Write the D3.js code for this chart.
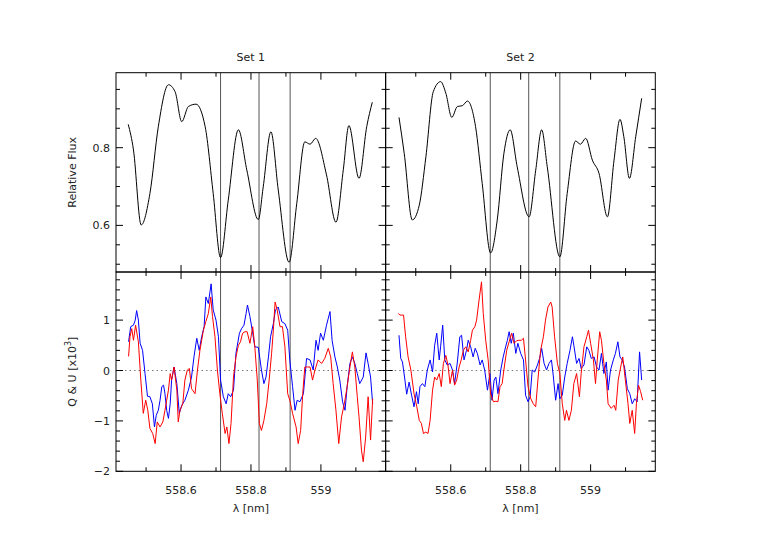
<!DOCTYPE html>
<html>
<head>
<meta charset="UTF-8">
<script src="https://d3js.org/d3.v7.min.js"></script>
<style>
  body { margin: 0; background: #fff; font-family: "DejaVu Sans", sans-serif; }
  text { fill: #222; font-size: 11px; }
</style>
</head>
<body>
<div id="chart"></div>
<script>
// line centres marked in every panel
const lineCentres = [558.713, 558.823, 558.912];
const setTitles = ["Set 1", "Set 2"];

// Relative flux [lambda, flux]
const flux1 = [[558.449,0.860],[558.464,0.794],[558.486,0.601],[558.511,0.682],[558.535,0.854],[558.564,0.962],[558.583,0.944],[558.602,0.867],[558.621,0.906],[558.643,0.912],[558.669,0.854],[558.692,0.682],[558.713,0.517],[558.735,0.665],[558.764,0.846],[558.788,0.743],[558.821,0.615],[558.835,0.699],[558.857,0.841],[558.878,0.691],[558.909,0.505],[558.931,0.657],[558.954,0.815],[558.969,0.809],[558.985,0.824],[559.016,0.730],[559.043,0.608],[559.064,0.743],[559.080,0.857],[559.109,0.721],[559.131,0.854],[559.147,0.917]];
const flux2 = [[558.452,0.878],[558.467,0.785],[558.490,0.614],[558.510,0.652],[558.529,0.777],[558.550,0.944],[558.571,0.970],[558.586,0.940],[558.603,0.878],[558.619,0.906],[558.633,0.908],[558.648,0.920],[558.671,0.854],[558.690,0.708],[558.714,0.529],[558.733,0.614],[558.752,0.785],[558.770,0.846],[558.790,0.751],[558.824,0.622],[558.843,0.742],[558.860,0.846],[558.876,0.751],[558.912,0.519],[558.933,0.682],[558.957,0.817],[558.971,0.809],[558.986,0.824],[559.005,0.768],[559.024,0.734],[559.048,0.622],[559.067,0.768],[559.084,0.873],[559.095,0.828],[559.111,0.721],[559.129,0.828],[559.146,0.927]];

// Q (blue) and U (red), units of 1e-3
const q1 = [[558.450,0.57],[558.456,0.87],[558.464,0.90],[558.469,1.00],[558.473,1.19],[558.478,1.00],[558.483,0.54],[558.490,0.40],[558.497,-0.06],[558.504,-0.51],[558.511,-0.52],[558.518,-0.66],[558.524,-1.12],[558.529,-0.89],[558.535,-0.79],[558.540,-0.59],[558.545,-0.32],[558.550,-0.29],[558.554,-0.46],[558.559,-0.79],[558.564,-0.95],[558.569,-0.66],[558.573,-0.19],[558.580,0.07],[558.588,-0.26],[558.595,-0.85],[558.602,-0.69],[558.611,-0.59],[558.621,-0.39],[558.630,-0.13],[558.637,0.27],[558.645,0.64],[558.652,0.40],[558.659,0.67],[558.666,0.87],[558.671,1.46],[558.678,1.33],[558.686,1.72],[558.692,1.20],[558.700,1.00],[558.707,0.67],[558.713,-0.19],[558.721,-0.52],[558.729,-0.66],[558.735,-0.46],[558.742,-0.52],[558.750,-0.39],[558.757,0.34],[558.767,0.74],[558.773,0.83],[558.780,0.90],[558.786,1.13],[558.790,1.30],[558.797,1.07],[558.805,0.74],[558.811,0.47],[558.821,0.46],[558.830,0.01],[558.837,-0.26],[558.843,-0.13],[558.850,0.27],[558.856,0.67],[558.864,0.93],[558.870,1.20],[558.878,1.26],[558.888,0.97],[558.897,0.93],[558.905,0.80],[558.911,0.21],[558.919,-0.32],[558.926,-0.79],[558.932,-0.59],[558.940,-0.62],[558.950,-0.46],[558.959,0.24],[558.969,0.21],[558.978,0.01],[558.986,0.60],[558.992,0.40],[558.999,0.74],[559.007,0.60],[559.016,0.90],[559.026,1.17],[559.032,0.60],[559.040,0.27],[559.047,0.07],[559.054,-0.19],[559.062,-0.62],[559.069,-0.79],[559.075,-0.32],[559.083,0.14],[559.090,0.27],[559.097,0.14],[559.104,-0.06],[559.111,-0.26],[559.121,-0.13],[559.129,0.35],[559.135,0.14],[559.142,-0.13],[559.148,-0.66]];
const u1 = [[558.450,0.28],[558.454,0.67],[558.459,0.83],[558.464,0.60],[558.470,0.90],[558.478,0.57],[558.485,-0.19],[558.492,-0.85],[558.499,-0.59],[558.505,-0.79],[558.511,-1.15],[558.519,-1.25],[558.526,-1.45],[558.532,-1.02],[558.540,-1.12],[558.548,-1.02],[558.554,-0.79],[558.559,-0.59],[558.564,-0.39],[558.569,-0.06],[558.573,-0.19],[558.580,0.07],[558.588,-0.39],[558.592,-1.02],[558.597,-0.79],[558.605,-0.66],[558.611,-0.19],[558.618,0.01],[558.624,0.04],[558.630,-0.36],[558.640,-0.46],[558.647,0.01],[558.654,0.40],[558.664,0.80],[558.671,0.97],[558.678,1.13],[558.685,1.46],[558.690,1.07],[558.697,0.67],[558.704,0.01],[558.711,-0.46],[558.718,-0.85],[558.726,-1.25],[558.731,-1.12],[558.737,-1.45],[558.743,-1.05],[558.750,-0.13],[558.757,0.27],[558.764,0.50],[558.770,0.57],[558.776,0.74],[558.783,0.77],[558.789,0.77],[558.797,0.54],[558.805,0.87],[558.811,0.47],[558.818,-0.19],[558.824,-1.05],[558.830,-1.19],[558.837,-0.99],[558.845,-0.66],[558.852,-0.19],[558.859,0.34],[558.864,0.80],[558.869,1.36],[558.875,1.20],[558.883,0.87],[558.890,0.87],[558.897,0.47],[558.905,-0.46],[558.911,-0.59],[558.919,-0.85],[558.929,-1.12],[558.935,-1.45],[558.942,-1.19],[558.948,-0.46],[558.954,0.07],[558.961,0.07],[558.969,0.07],[558.976,-0.19],[558.983,0.01],[558.992,0.21],[559.002,0.14],[559.011,0.24],[559.021,0.44],[559.028,0.27],[559.035,-0.26],[559.043,-0.79],[559.051,-1.45],[559.059,-0.92],[559.067,-0.66],[559.075,-0.32],[559.083,0.07],[559.090,0.37],[559.097,0.07],[559.104,-0.52],[559.109,-0.92],[559.116,-1.58],[559.121,-1.81],[559.128,-1.32],[559.135,-0.52],[559.142,-1.38],[559.148,-0.56]];
const q2 = [[558.452,0.70],[558.457,0.24],[558.462,0.17],[558.469,-0.19],[558.474,-0.47],[558.481,-0.23],[558.488,-0.49],[558.495,-0.72],[558.502,-0.42],[558.507,-0.66],[558.512,-0.32],[558.519,-0.26],[558.526,-0.32],[558.533,0.01],[558.541,0.21],[558.548,-0.03],[558.554,0.50],[558.560,0.74],[558.567,0.21],[558.571,0.47],[558.577,0.90],[558.583,0.21],[558.590,0.11],[558.598,0.14],[558.605,0.01],[558.611,-0.26],[558.619,0.17],[558.626,0.67],[558.631,0.70],[558.638,0.21],[558.645,0.40],[558.650,0.60],[558.657,0.47],[558.664,0.27],[558.670,0.44],[558.676,0.34],[558.684,0.11],[558.690,0.21],[558.697,0.01],[558.705,-0.39],[558.712,-0.06],[558.718,-0.59],[558.724,-0.19],[558.729,-0.13],[558.735,-0.46],[558.743,0.01],[558.750,0.27],[558.757,0.47],[558.762,0.60],[558.767,0.77],[558.773,0.54],[558.779,0.74],[558.786,0.34],[558.792,0.54],[558.800,0.34],[558.808,0.21],[558.814,-0.49],[558.821,-0.62],[558.827,-0.52],[558.833,0.01],[558.840,-0.03],[558.848,0.11],[558.854,0.24],[558.860,0.44],[558.867,0.14],[558.874,0.01],[558.881,0.14],[558.888,0.21],[558.893,-0.09],[558.900,-0.59],[558.907,-0.26],[558.912,-0.56],[558.919,-0.49],[558.926,-0.13],[558.933,0.14],[558.941,0.40],[558.948,0.67],[558.952,0.50],[558.960,0.14],[558.967,0.24],[558.973,0.04],[558.981,0.11],[558.989,0.47],[558.995,0.40],[559.002,0.24],[559.010,0.27],[559.017,0.07],[559.024,0.01],[559.031,0.34],[559.038,-0.06],[559.045,0.17],[559.050,-0.39],[559.057,0.01],[559.065,0.21],[559.071,0.34],[559.078,0.57],[559.084,0.27],[559.090,0.21],[559.097,0.07],[559.105,-0.36],[559.112,-0.46],[559.119,-0.66],[559.126,-0.56],[559.133,-0.62],[559.140,0.37],[559.146,-0.19]];
const u2 = [[558.450,1.13],[558.455,1.10],[558.465,1.10],[558.471,0.67],[558.478,0.27],[558.486,0.01],[558.495,-0.46],[558.503,-0.72],[558.510,-0.99],[558.516,-1.05],[558.522,-1.25],[558.529,-1.22],[558.535,-1.25],[558.541,-0.99],[558.548,-0.39],[558.554,-0.13],[558.560,-0.19],[558.567,-0.06],[558.573,-0.32],[558.579,0.14],[558.586,0.30],[558.592,0.11],[558.598,-0.26],[558.605,0.01],[558.611,-0.29],[558.617,-0.19],[558.624,0.07],[558.630,0.21],[558.636,0.40],[558.643,0.47],[558.650,0.37],[558.657,0.60],[558.662,0.80],[558.669,0.87],[558.674,1.00],[558.681,1.40],[558.688,1.76],[558.693,1.13],[558.700,0.60],[558.707,0.21],[558.714,-0.46],[558.722,-0.62],[558.729,-0.61],[558.735,-0.62],[558.741,-0.32],[558.747,-0.26],[558.752,0.01],[558.760,0.40],[558.767,0.57],[558.774,0.74],[558.781,0.54],[558.788,0.59],[558.795,0.60],[558.802,0.60],[558.808,0.64],[558.814,0.21],[558.821,-0.32],[558.829,-0.56],[558.836,-0.66],[558.843,-0.72],[558.850,-0.13],[558.857,0.40],[558.865,0.67],[558.871,1.00],[558.878,1.26],[558.886,1.36],[558.890,1.26],[558.897,0.67],[558.905,0.14],[558.912,-0.06],[558.919,-0.66],[558.926,-0.99],[558.931,-0.79],[558.938,-0.99],[558.945,-0.79],[558.952,-0.26],[558.960,-0.06],[558.968,-0.52],[558.973,-0.06],[558.981,0.47],[558.989,0.67],[558.994,0.80],[559.000,0.54],[559.008,0.21],[559.014,-0.26],[559.019,0.21],[559.026,0.77],[559.031,0.60],[559.038,0.14],[559.045,-0.19],[559.050,-0.66],[559.059,-0.75],[559.067,-0.69],[559.072,-0.79],[559.079,-0.19],[559.086,0.07],[559.092,0.27],[559.100,-0.23],[559.107,-0.66],[559.112,-1.05],[559.119,-0.79],[559.126,-1.25],[559.131,-0.66],[559.137,-0.29],[559.143,-0.42],[559.149,-0.59]];

const fluxSets = [flux1, flux2];
const qSets = [q1, q2];
const uSets = [u1, u2];

const W = 771, H = 545;
const panelLeft = [116, 385.7], panelW = 269.6;
const topY0 = 72.7, midY = 272, botY1 = 471.3;

const svg = d3.select("#chart").append("svg").attr("width", W).attr("height", H);

const yFlux = d3.scaleLinear().domain([0.48, 0.993]).range([midY, topY0]);
const yQU = d3.scaleLinear().domain([-2, 1.955]).range([botY1, midY]);

function drawTicks(g, x, y, x0, x1, y0, y1, yMajor, yMinor, showX, showY) {
  const xMajor = [558.6, 558.8, 559.0];
  const xMinor = d3.range(558.5, 559.15, 0.1).map(v => +v.toFixed(2));
  const t = g.append("g").attr("stroke", "#000").attr("stroke-width", 1);
  xMinor.forEach(v => {
    const len = xMajor.some(m => Math.abs(m - v) < 1e-6) ? 7 : 4;
    const px = x(v);
    t.append("line").attr("x1", px).attr("x2", px).attr("y1", y1).attr("y2", y1 - len);
    t.append("line").attr("x1", px).attr("x2", px).attr("y1", y0).attr("y2", y0 + len);
  });
  yMinor.forEach(v => {
    const len = yMajor.some(m => Math.abs(m - v) < 1e-6) ? 7 : 4;
    const py = y(v);
    t.append("line").attr("x1", x0).attr("x2", x0 + len).attr("y1", py).attr("y2", py);
    t.append("line").attr("x1", x1).attr("x2", x1 - len).attr("y1", py).attr("y2", py);
  });
  if (showY) {
    yMajor.forEach(v => {
      g.append("text").attr("x", x0 - 6).attr("y", y(v) + 4).attr("text-anchor", "end")
        .text(d3.format("~g")(v).replace("-", "\u2212"));
    });
  }
  if (showX) {
    xMajor.forEach(v => {
      g.append("text").attr("x", x(v)).attr("y", y1 + 23).attr("text-anchor", "middle")
        .text(d3.format("~g")(v));
    });
  }
}

[0, 1].forEach(i => {
  const x0 = panelLeft[i], x1 = x0 + panelW;
  const x = d3.scaleLinear().domain([558.414, 559.185]).range([x0, x1]);
  const g = svg.append("g");

  // zero line
  g.append("line").attr("x1", x0).attr("x2", x1).attr("y1", yQU(0)).attr("y2", yQU(0))
    .attr("stroke", "#777").attr("stroke-dasharray", "1.5,3");

  // line centres
  lineCentres.forEach(c => {
    g.append("line").attr("x1", x(c)).attr("x2", x(c)).attr("y1", topY0).attr("y2", botY1)
      .attr("stroke", "#555").attr("stroke-width", 1);
  });

  g.append("path").datum(fluxSets[i])
    .attr("d", d3.line().x(d => x(d[0])).y(d => yFlux(d[1])).curve(d3.curveMonotoneX))
    .attr("fill", "none").attr("stroke", "#000").attr("stroke-width", 1);

  const ln = d3.line().x(d => x(d[0])).y(d => yQU(d[1]));
  g.append("path").datum(qSets[i]).attr("d", ln).attr("fill", "none").attr("stroke", "#0000ff").attr("stroke-width", 1);
  g.append("path").datum(uSets[i]).attr("d", ln).attr("fill", "none").attr("stroke", "#ff0000").attr("stroke-width", 1);

  // frames
  g.append("rect").attr("x", x0).attr("y", topY0).attr("width", panelW).attr("height", midY - topY0)
    .attr("fill", "none").attr("stroke", "#000");
  g.append("rect").attr("x", x0).attr("y", midY).attr("width", panelW).attr("height", botY1 - midY)
    .attr("fill", "none").attr("stroke", "#000");

  drawTicks(g, x, yFlux, x0, x1, topY0, midY, [0.6, 0.8], d3.range(0.5, 0.99, 0.05).map(v => +v.toFixed(2)), false, i === 0);
  drawTicks(g, x, yQU, x0, x1, midY, botY1, [-2, -1, 0, 1], d3.range(-2, 1.95, 0.2).map(v => +v.toFixed(1)), true, i === 0);

  g.append("text").attr("x", x0 + panelW / 2).attr("y", 61).attr("text-anchor", "middle").text(setTitles[i]);
  g.append("text").attr("x", x0 + panelW / 2).attr("y", 512).attr("text-anchor", "middle").text("λ [nm]");
});

svg.append("text").attr("transform", `translate(76,${(topY0 + midY) / 2}) rotate(-90)`)
  .attr("text-anchor", "middle").text("Relative Flux");
const qu = svg.append("text").attr("transform", `translate(76,${(midY + botY1) / 2}) rotate(-90)`)
  .attr("text-anchor", "middle");
qu.append("tspan").text("Q & U [x10");
qu.append("tspan").attr("dy", -5).attr("font-size", "8px").text("3");
qu.append("tspan").attr("dy", 5).text("]");
</script>
</body>
</html>
